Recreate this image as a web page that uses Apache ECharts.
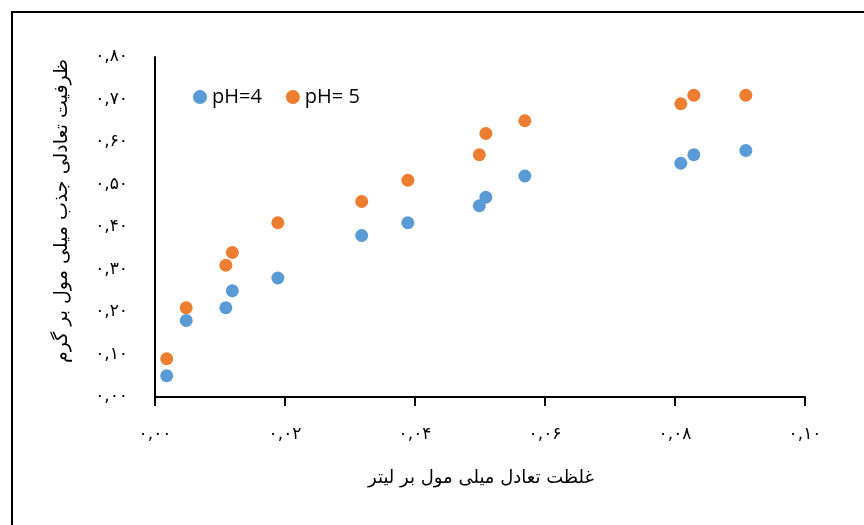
<!DOCTYPE html>
<html>
<head>
<meta charset="utf-8">
<script src="https://cdn.jsdelivr.net/npm/echarts@6/dist/echarts.min.js"></script>
<style>html,body{margin:0;padding:0;background:#fff}#c{width:864px;height:525px}</style>
</head>
<body>
<div id="c"></div>
<script>
var xValues = [0.0018, 0.0048, 0.0109, 0.0119, 0.0189, 0.0318, 0.0389, 0.0499, 0.0509, 0.0569, 0.0809, 0.0829, 0.0909];
var ph4Values = [0.05, 0.18, 0.21, 0.25, 0.28, 0.38, 0.41, 0.45, 0.47, 0.52, 0.55, 0.57, 0.58];
var ph5Values = [0.09, 0.21, 0.31, 0.34, 0.41, 0.46, 0.51, 0.57, 0.62, 0.65, 0.69, 0.71, 0.71];
var seriesNames = ['pH=4', 'pH= 5'];
var xTickLabels = ['۰,۰۰', '۰,۰۲', '۰,۰۴', '۰,۰۶', '۰,۰۸', '۰,۱۰'];
var yTickLabels = ['۰,۰۰', '۰,۱۰', '۰,۲۰', '۰,۳۰', '۰,۴۰', '۰,۵۰', '۰,۶۰', '۰,۷۰', '۰,۸۰'];
var xTitle = 'غلظت تعادل میلی مول بر لیتر';
var yTitle = 'ظرفیت تعادلی جذب میلی مول بر گرم';

function pairs(xs, ys) { return xs.map(function (x, i) { return [x, ys[i]]; }); }

var chart = echarts.init(document.getElementById('c'));
var arabicFont = '"DejaVu Sans", sans-serif';
chart.setOption({
  animation: false,
  grid: { left: 155, top: 57, width: 650, height: 340 },
  legend: {
    left: 188, top: 82, itemGap: 24, itemWidth: 14, itemHeight: 14,
    icon: 'circle',
    textStyle: { fontFamily: '"Open Sans", sans-serif', fontSize: 20, color: '#000' },
    data: seriesNames
  },
  xAxis: {
    type: 'value', min: 0, max: 0.1, interval: 0.02,
    splitLine: { show: false },
    axisLine: { lineStyle: { color: '#000', width: 2 } },
    axisTick: { show: true, length: 9, lineStyle: { color: '#000', width: 2 } },
    axisLabel: {
      margin: 29, color: '#000', fontSize: 17, fontFamily: arabicFont,
      formatter: function (v) { return xTickLabels[Math.round(v / 0.02)]; }
    }
  },
  yAxis: {
    type: 'value', min: 0, max: 0.8, interval: 0.1,
    splitLine: { show: false },
    axisLine: { show: true, lineStyle: { color: '#000', width: 2 } },
    axisTick: { show: false },
    axisLabel: {
      margin: 27, color: '#000', fontSize: 17, fontFamily: arabicFont,
      formatter: function (v) { return yTickLabels[Math.round(v / 0.1)]; }
    }
  },
  series: [
    { name: seriesNames[0], type: 'scatter', symbolSize: 13, itemStyle: { color: '#5B9BD5', opacity: 1 }, data: pairs(xValues, ph4Values) },
    { name: seriesNames[1], type: 'scatter', symbolSize: 13, itemStyle: { color: '#ED7D31', opacity: 1 }, data: pairs(xValues, ph5Values) }
  ],
  graphic: [
    { type: 'rect', shape: { x: 12, y: 12, width: 900, height: 600 }, style: { fill: 'none', stroke: '#000', lineWidth: 2 }, silent: true },
    { type: 'text', x: 481, y: 478, style: { text: xTitle, fontFamily: arabicFont, fontSize: 18, fill: '#000', align: 'center', verticalAlign: 'middle' } },
    { type: 'text', x: 62, y: 211, rotation: Math.PI / 2, style: { text: yTitle, fontFamily: arabicFont, fontSize: 19, fill: '#000', align: 'center', verticalAlign: 'middle' } }
  ]
});
</script>
</body>
</html>
